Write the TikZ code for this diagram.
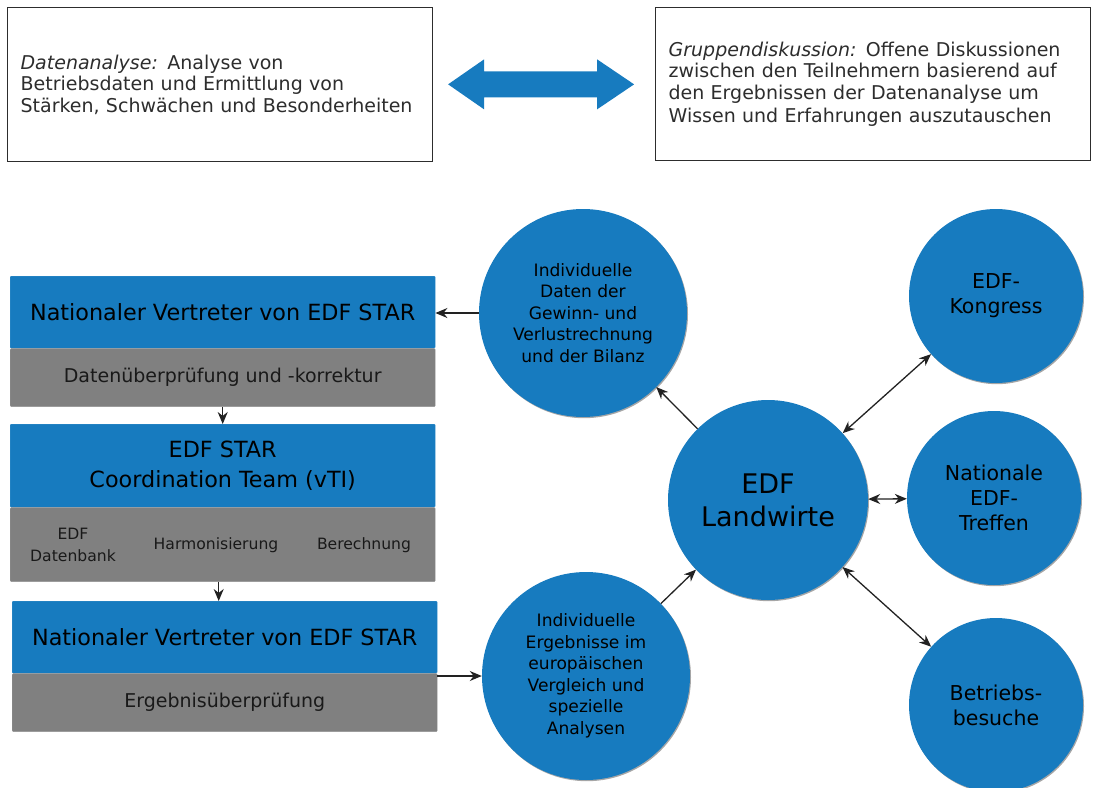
\documentclass[tikz,border=0pt]{standalone}
\usepackage{fontspec}
\setmainfont{DejaVu Sans}
\usepackage{xcolor}
\definecolor{edfblue}{RGB}{23, 123, 191}
\definecolor{edfgrey}{RGB}{128, 128, 128}
\definecolor{textgrey}{RGB}{45, 45, 45}
\definecolor{linegrey}{RGB}{34, 34, 34}
\usetikzlibrary{arrows.meta, positioning, calc, shadows}

\begin{document}
\begin{tikzpicture}[x=1pt, y=-1pt, >={Stealth[length=12pt, width=10pt]},
    infobox/.style={draw=textgrey, line width=1.2pt, fill=white, text=textgrey, align=left,
        inner xsep=13pt, anchor=north west, font=\fontsize{19}{21.7}\selectfont},
    bluebox/.style={fill=edfblue, draw=edfblue!85!white, rounded corners=1pt, minimum width=425pt,
        inner sep=0pt, align=center, anchor=north west, font=\fontsize{22.3}{30}\selectfont},
    greybox/.style={fill=edfgrey, draw=edfgrey!85!white, rounded corners=1pt, minimum width=425pt,
        inner sep=0pt, align=center, text=black!90, font=\fontsize{19}{22}\selectfont},
    smalltext/.style={align=center, text=black!90, font=\fontsize{15.6}{22}\selectfont},
    bigcircle/.style={circle, fill=edfblue, inner sep=0pt, align=center,
        drop shadow={shadow xshift=1pt, shadow yshift=-1.2pt, fill=black, opacity=0.35}},
    link/.style={->, line width=1.3pt, draw=linegrey},
    both/.style={<->, line width=1.3pt, draw=linegrey}]
    \useasboundingbox (0,0) rectangle (1097,787);

    % top: data analysis <-> group discussion
    \node[infobox, minimum width=425pt, minimum height=154pt, text width=399pt] (da) at (7,7)
        {\textit{Datenanalyse:}\enspace Analyse von\\Betriebsdaten und Ermittlung von\\St\"arken, Schw\"achen und Besonderheiten};
    \node[infobox, minimum width=435pt, minimum height=153pt, text width=409pt] (gd) at (655,7)
        {\textit{Gruppendiskussion:}\enspace Offene Diskussionen\\zwischen den Teilnehmern basierend auf\\den Ergebnissen der Datenanalyse um\\[1.5pt]Wissen und Erfahrungen auszutauschen};
    \coordinate (mid) at ($(da.east)!0.5!(gd.west)$);
    \fill[edfblue, shift={(mid)}] (-96,0) -- (-60,-25) -- (-60,-13) -- (53,-13) -- (53,-25)
        -- (90,0) -- (53,25) -- (53,13) -- (-60,13) -- (-60,25) -- cycle;

    % left: data flow
    \node[bluebox, minimum height=72pt] (nv1) at (10,276) {Nationaler Vertreter von EDF STAR};
    \node[greybox, minimum height=58pt, below=0pt of nv1] (dk) {Daten\"uberpr\"ufung und -korrektur};
    \node[bluebox, minimum height=83pt] (ct) at (10,424) {EDF STAR\\Coordination Team (vTI)};
    \node[greybox, minimum height=74pt, below=0pt of ct] (hb) {};
    \node[smalltext] (db) at (73,545) {EDF\\Datenbank};
    \node[smalltext] (hm) at (216,545) {Harmonisierung};
    \node[smalltext] (bc) at (364,545) {Berechnung};
    \node[bluebox, minimum height=72pt] (nv2) at (12,601) {Nationaler Vertreter von EDF STAR};
    \node[greybox, minimum height=58pt, below=0pt of nv2] (ep) {Ergebnis\"uberpr\"ufung};

    % circles
    \node[bigcircle, minimum size=208pt, font=\fontsize{17.1}{21.5}\selectfont] (gv) at (583,313)
        {Individuelle\\Daten der\\Gewinn- und\\Verlustrechnung\\und der Bilanz};
    \node[bigcircle, minimum size=208pt, font=\fontsize{17.1}{21.5}\selectfont] (ie) at (586,676)
        {Individuelle\\Ergebnisse im\\europ\"aischen\\Vergleich und\\spezielle\\Analysen};
    \node[bigcircle, minimum size=200pt, font=\fontsize{27}{33}\selectfont] (lw) at (768,500) {EDF\\Landwirte};
    \node[bigcircle, minimum size=174pt, font=\fontsize{20.5}{25}\selectfont] (kg) at (996,296) {EDF-\\Kongress};
    \node[bigcircle, minimum size=174pt, font=\fontsize{20.5}{25}\selectfont] (nt) at (994,498) {Nationale\\EDF-\\Treffen};
    \node[bigcircle, minimum size=174pt, font=\fontsize{20.5}{25}\selectfont] (bb) at (996,705) {Betriebs-\\besuche};

    % connectors
    \coordinate (hbs) at ($(hb.south)+(-4,0)$);
    \draw[link] (dk.south) -- (ct.north);
    \draw[link] (hbs) -- (hbs |- nv2.north);
    \draw[link] (gv.west) -- (gv.west -| nv1.east);
    \draw[link] (ie.west -| ep.east) -- (ie.west);
    \draw[link] (lw) -- (gv);
    \draw[link] (ie) -- (lw);
    \draw[both] (lw) -- (kg);
    \draw[both] (lw) -- (nt);
    \draw[both] (lw) -- (bb);
\end{tikzpicture}
\end{document}
